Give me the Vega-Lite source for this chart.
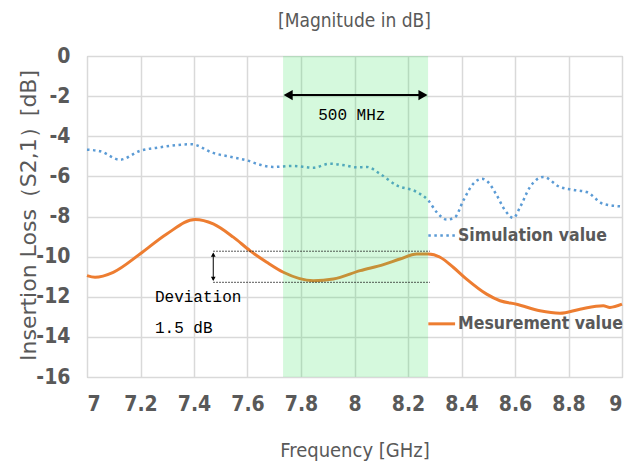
{
  "$schema": "https://vega.github.io/schema/vega-lite/v6.json",
  "autosize": "none",
  "width": 535,
  "height": 321,
  "padding": {"left": 87, "top": 56, "right": 18, "bottom": 86},
  "background": "white",
  "config": {
    "view": {"stroke": "#bfbfbf", "strokeWidth": 1},
    "font": "DejaVu Sans Condensed, Liberation Sans, sans-serif"
  },
  "title": {
    "text": "[Magnitude in dB]",
    "fontSize": 19,
    "fontWeight": "normal",
    "color": "#595959",
    "font": "DejaVu Sans Condensed, Liberation Sans, sans-serif",
    "anchor": "middle",
    "offset": 14
  },
  "datasets": {
    "sim": [
      {"f": 7.0, "v": -4.67}, {"f": 7.05, "v": -4.75}, {"f": 7.123, "v": -5.17},
      {"f": 7.198, "v": -4.73}, {"f": 7.273, "v": -4.55}, {"f": 7.391, "v": -4.4},
      {"f": 7.471, "v": -4.83}, {"f": 7.546, "v": -5.05}, {"f": 7.597, "v": -5.2},
      {"f": 7.647, "v": -5.42}, {"f": 7.695, "v": -5.53}, {"f": 7.77, "v": -5.48},
      {"f": 7.845, "v": -5.57}, {"f": 7.908, "v": -5.37}, {"f": 7.964, "v": -5.45},
      {"f": 8.008, "v": -5.55}, {"f": 8.046, "v": -5.53}, {"f": 8.095, "v": -5.87},
      {"f": 8.158, "v": -6.45}, {"f": 8.233, "v": -6.78}, {"f": 8.276, "v": -7.2},
      {"f": 8.307, "v": -7.78}, {"f": 8.345, "v": -8.15}, {"f": 8.376, "v": -8.03},
      {"f": 8.407, "v": -7.2}, {"f": 8.444, "v": -6.37}, {"f": 8.476, "v": -6.12},
      {"f": 8.499, "v": -6.28}, {"f": 8.532, "v": -6.95}, {"f": 8.563, "v": -7.7},
      {"f": 8.594, "v": -8.07}, {"f": 8.619, "v": -7.53}, {"f": 8.656, "v": -6.53},
      {"f": 8.706, "v": -6.03}, {"f": 8.768, "v": -6.53}, {"f": 8.818, "v": -6.67},
      {"f": 8.868, "v": -6.78}, {"f": 8.93, "v": -7.37}, {"f": 9.0, "v": -7.5}
    ],
    "meas": [
      {"f": 7.0, "v": -10.95}, {"f": 7.03, "v": -11.03}, {"f": 7.098, "v": -10.78},
      {"f": 7.198, "v": -9.87}, {"f": 7.298, "v": -8.87}, {"f": 7.404, "v": -8.15},
      {"f": 7.472, "v": -8.37}, {"f": 7.547, "v": -9.03}, {"f": 7.609, "v": -9.7},
      {"f": 7.672, "v": -10.28}, {"f": 7.734, "v": -10.78}, {"f": 7.846, "v": -11.2},
      {"f": 7.921, "v": -11.12}, {"f": 8.021, "v": -10.7}, {"f": 8.108, "v": -10.4},
      {"f": 8.17, "v": -10.12}, {"f": 8.233, "v": -9.87}, {"f": 8.276, "v": -9.87},
      {"f": 8.32, "v": -10.03}, {"f": 8.369, "v": -10.53}, {"f": 8.419, "v": -11.12},
      {"f": 8.494, "v": -11.87}, {"f": 8.544, "v": -12.2}, {"f": 8.606, "v": -12.37},
      {"f": 8.693, "v": -12.7}, {"f": 8.768, "v": -12.82}, {"f": 8.843, "v": -12.62},
      {"f": 8.93, "v": -12.45}, {"f": 8.955, "v": -12.53}, {"f": 9.0, "v": -12.37}
    ]
  },
  "layer": [
    {
      "data": {"name": "sim"},
      "mark": {"type": "line", "color": "#5b9bd5", "strokeWidth": 2.5, "strokeDash": [2.5, 3.5], "interpolate": "monotone"},
      "encoding": {
        "x": {
          "field": "f", "type": "quantitative",
          "scale": {"domain": [7, 9], "nice": false, "zero": false},
          "axis": {
            "values": [7, 7.2, 7.4, 7.6, 7.8, 8, 8.2, 8.4, 8.6, 8.8, 9],
            "format": "~g",
            "title": "Frequency [GHz]",
            "titleFontSize": 20, "titleFontWeight": "normal", "titleColor": "#595959", "titlePadding": 26,
            "labelFontSize": 21, "labelFontWeight": "bold", "labelColor": "#595959", "labelPadding": 16,
            "ticks": false, "domain": false,
            "gridColor": "#d9d9d9", "gridWidth": 1.5
          }
        },
        "y": {
          "field": "v", "type": "quantitative",
          "scale": {"domain": [-16, 0], "nice": false, "zero": false},
          "axis": {
            "values": [-16, -14, -12, -10, -8, -6, -4, -2, 0],
            "format": "d",
            "labelExpr": "replace(datum.label, '−', '-')",
            "title": "Insertion Loss（S2,1）[dB]",
            "titleFont": "DejaVu Sans",
            "titleFontSize": 22, "titleFontWeight": "normal", "titleColor": "#595959",
            "titleX": -47, "titleY": 159,
            "labelFontSize": 21, "labelFontWeight": "bold", "labelColor": "#595959", "labelPadding": 17,
            "ticks": false, "domain": false,
            "gridColor": "#d9d9d9", "gridWidth": 1.5
          }
        }
      }
    },
    {
      "data": {"name": "meas"},
      "mark": {"type": "line", "color": "#ed7d31", "strokeWidth": 3, "interpolate": "monotone"},
      "encoding": {
        "x": {"field": "f", "type": "quantitative"},
        "y": {"field": "v", "type": "quantitative"}
      }
    },
    {
      "data": {"values": [{"a": 7.733, "b": 8.275}]},
      "mark": {"type": "rect", "color": "#2de155", "opacity": 0.2},
      "encoding": {
        "x": {"field": "a", "type": "quantitative"},
        "x2": {"field": "b"}
      }
    },
    {
      "data": {"values": [{"a": 7.745, "b": 8.265, "y": -1.95}]},
      "mark": {"type": "rule", "color": "black", "strokeWidth": 2},
      "encoding": {
        "x": {"field": "a", "type": "quantitative"},
        "x2": {"field": "b"},
        "y": {"field": "y", "type": "quantitative"}
      }
    },
    {
      "data": {"values": [
        {"x": 7.752, "y": -1.95, "s": "triangle-left"},
        {"x": 8.256, "y": -1.95, "s": "triangle-right"}
      ]},
      "mark": {"type": "point", "filled": true, "color": "black", "size": 110, "opacity": 1},
      "encoding": {
        "x": {"field": "x", "type": "quantitative"},
        "y": {"field": "y", "type": "quantitative"},
        "shape": {"field": "s", "type": "nominal", "scale": null}
      }
    },
    {
      "data": {"values": [{"x": 7.99, "y": -2.95, "t": "500 MHz"}]},
      "mark": {"type": "text", "font": "Liberation Mono", "fontSize": 16, "color": "black", "align": "center", "baseline": "middle"},
      "encoding": {
        "x": {"field": "x", "type": "quantitative"},
        "y": {"field": "y", "type": "quantitative"},
        "text": {"field": "t"}
      }
    },
    {
      "data": {"values": [
        {"a": 7.472, "b": 8.282, "y": -9.73},
        {"a": 7.472, "b": 8.282, "y": -11.28}
      ]},
      "mark": {"type": "rule", "color": "#222222", "strokeWidth": 1, "strokeDash": [1.5, 1.5]},
      "encoding": {
        "x": {"field": "a", "type": "quantitative"},
        "x2": {"field": "b"},
        "y": {"field": "y", "type": "quantitative"}
      }
    },
    {
      "data": {"values": [{"x": 7.472, "y1": -9.85, "y2": -11.16}]},
      "mark": {"type": "rule", "color": "black", "strokeWidth": 1},
      "encoding": {
        "x": {"field": "x", "type": "quantitative"},
        "y": {"field": "y1", "type": "quantitative"},
        "y2": {"field": "y2"}
      }
    },
    {
      "data": {"values": [
        {"x": 7.472, "y": -9.9, "s": "triangle-up"},
        {"x": 7.472, "y": -11.11, "s": "triangle-down"}
      ]},
      "mark": {"type": "point", "filled": true, "color": "black", "size": 22, "opacity": 1},
      "encoding": {
        "x": {"field": "x", "type": "quantitative"},
        "y": {"field": "y", "type": "quantitative"},
        "shape": {"field": "s", "type": "nominal", "scale": null}
      }
    },
    {
      "data": {"values": [
        {"x": 7.254, "y": -12.0, "t": "Deviation"},
        {"x": 7.254, "y": -13.55, "t": "1.5 dB"}
      ]},
      "mark": {"type": "text", "font": "Liberation Mono", "fontSize": 16, "color": "black", "align": "left", "baseline": "middle"},
      "encoding": {
        "x": {"field": "x", "type": "quantitative"},
        "y": {"field": "y", "type": "quantitative"},
        "text": {"field": "t"}
      }
    },
    {
      "data": {"values": [{"a": 8.276, "b": 8.376, "y": -8.95}]},
      "mark": {"type": "rule", "color": "#5b9bd5", "strokeWidth": 2.5, "strokeDash": [2.5, 3.5]},
      "encoding": {
        "x": {"field": "a", "type": "quantitative"},
        "x2": {"field": "b"},
        "y": {"field": "y", "type": "quantitative"}
      }
    },
    {
      "data": {"values": [{"a": 8.276, "b": 8.376, "y": -13.35}]},
      "mark": {"type": "rule", "color": "#ed7d31", "strokeWidth": 3},
      "encoding": {
        "x": {"field": "a", "type": "quantitative"},
        "x2": {"field": "b"},
        "y": {"field": "y", "type": "quantitative"}
      }
    },
    {
      "data": {"values": [
        {"x": 8.387, "y": -8.95, "t": "Simulation value"},
        {"x": 8.387, "y": -13.35, "t": "Mesurement value"}
      ]},
      "mark": {"type": "text", "fontSize": 17.5, "fontWeight": "bold", "color": "#595959", "align": "left", "baseline": "middle"},
      "encoding": {
        "x": {"field": "x", "type": "quantitative"},
        "y": {"field": "y", "type": "quantitative"},
        "text": {"field": "t"}
      }
    }
  ]
}
